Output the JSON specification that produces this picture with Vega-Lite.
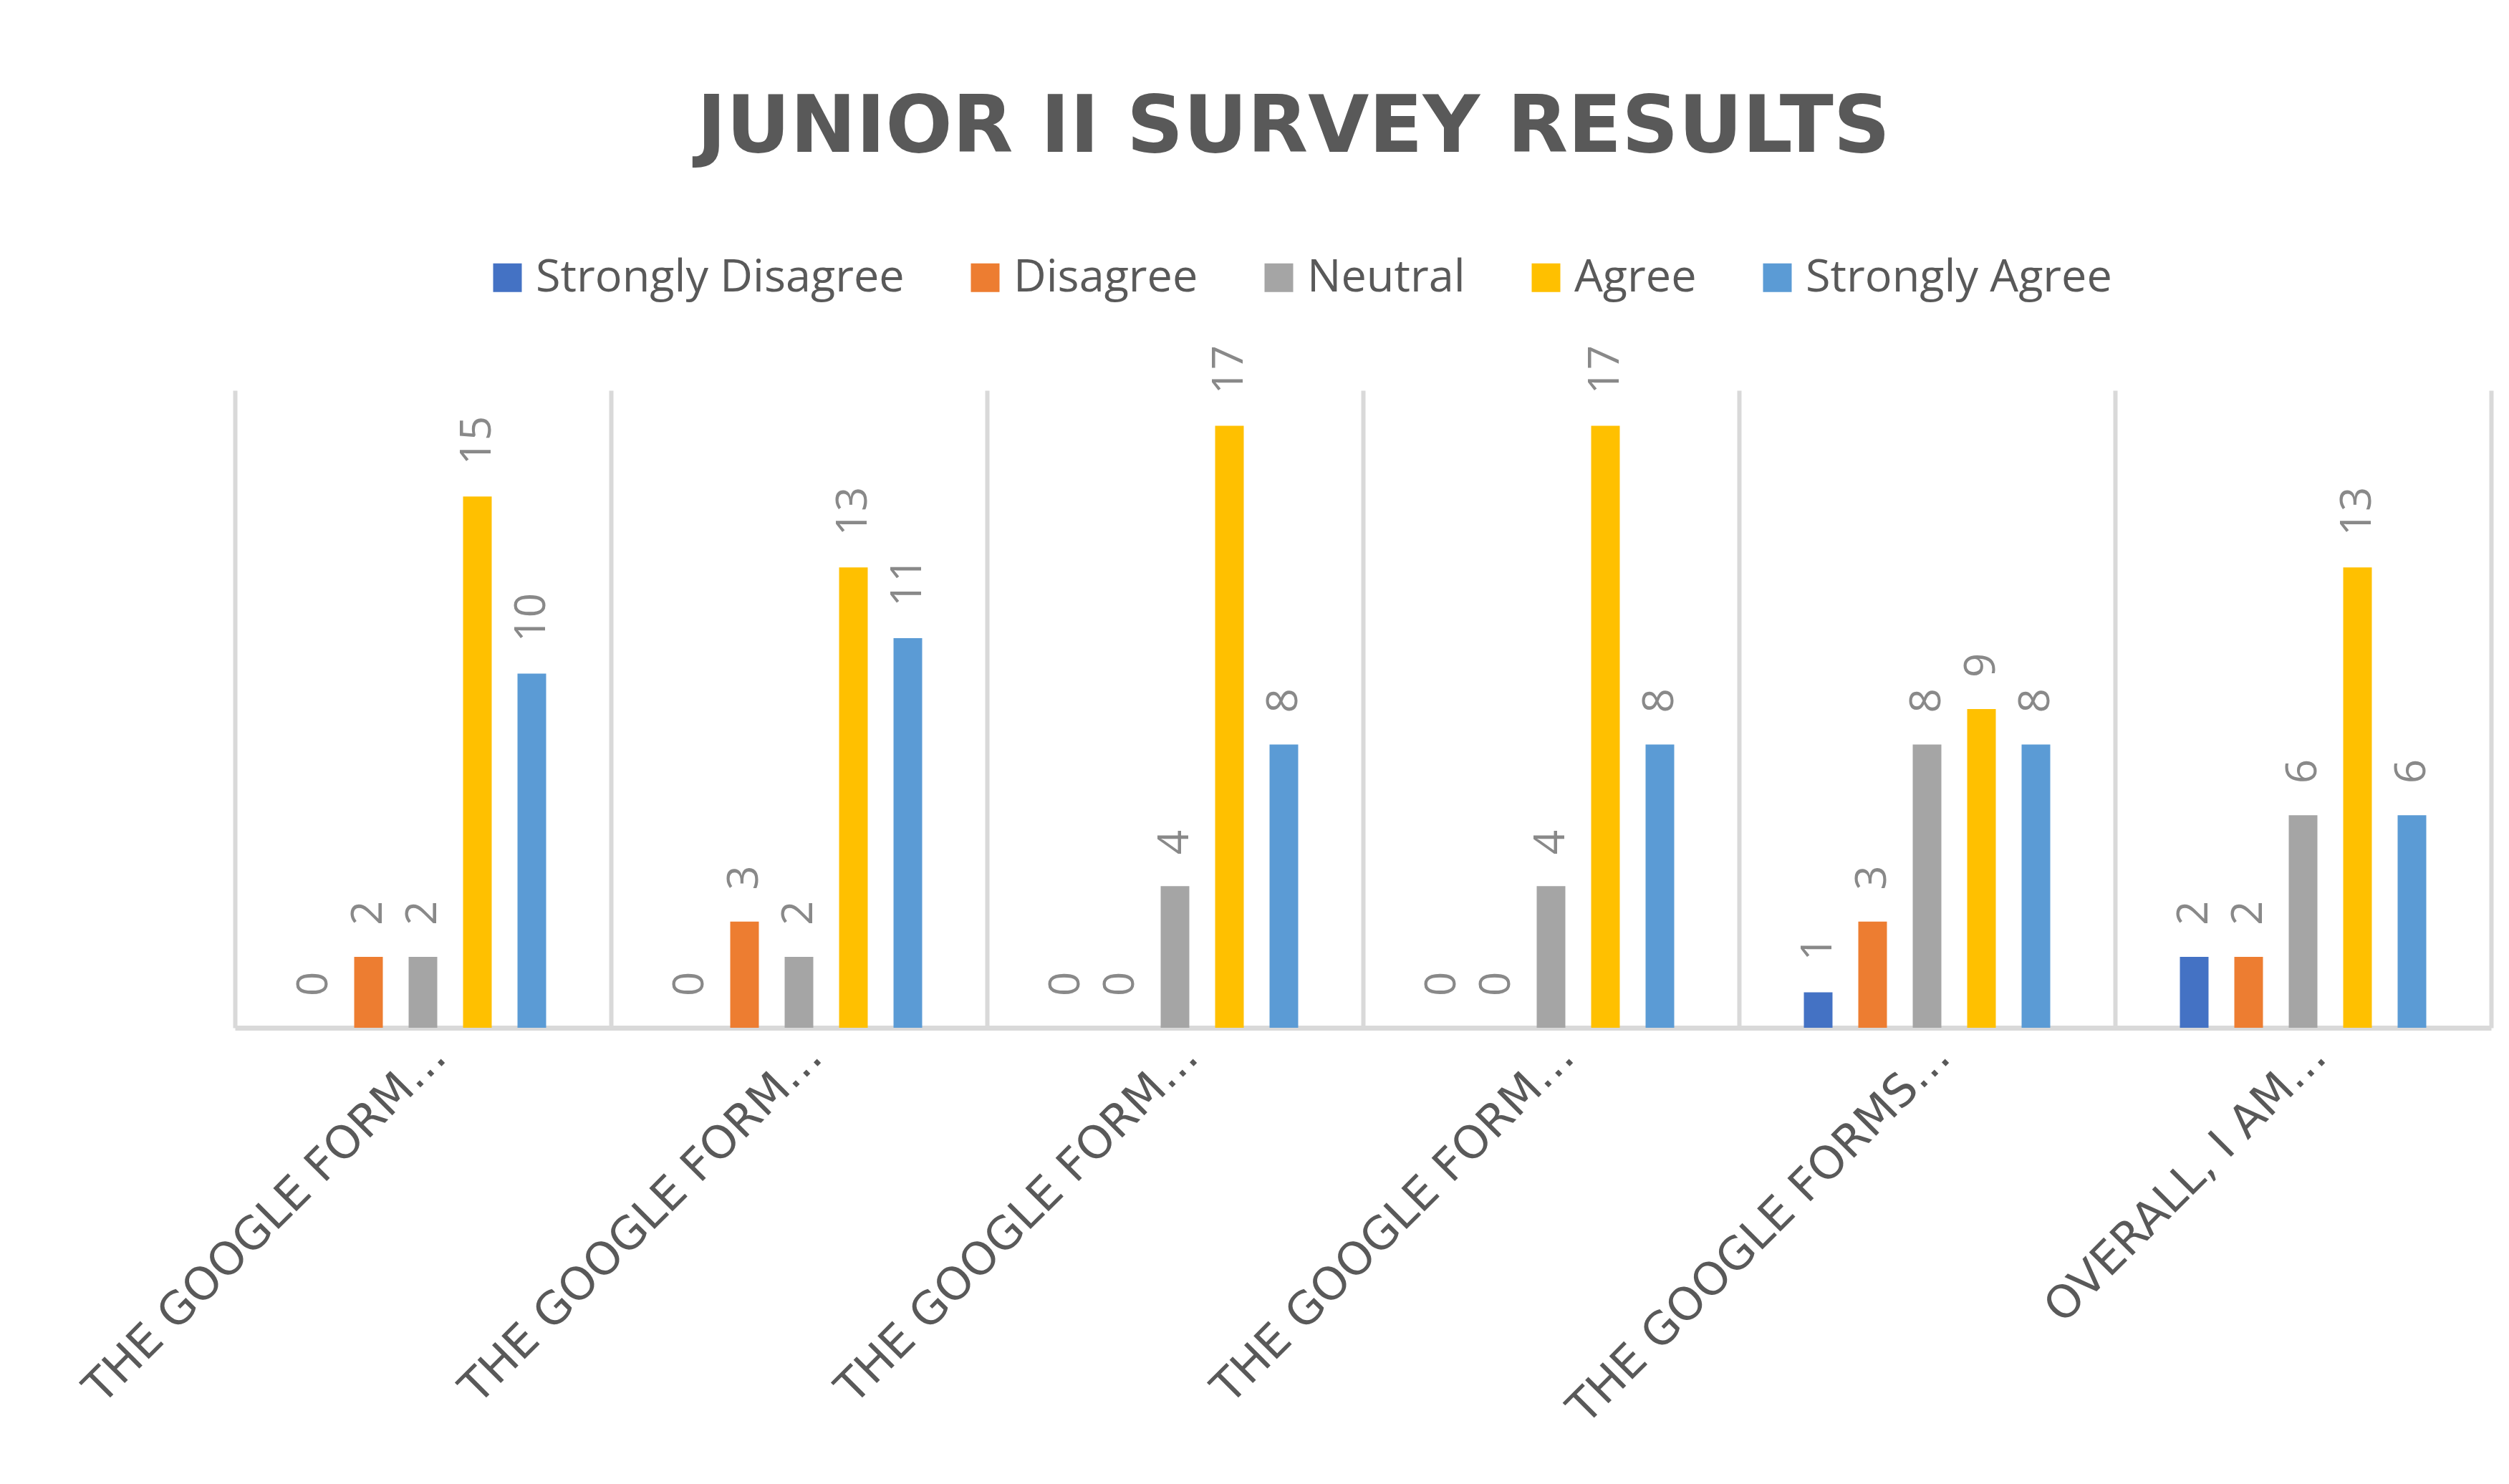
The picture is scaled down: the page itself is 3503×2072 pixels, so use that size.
{
  "$schema": "https://vega.github.io/schema/vega-lite/v6.json",
  "width": 3150,
  "height": 890,
  "autosize": {"type": "none"},
  "padding": {"left": 328, "top": 545, "right": 25, "bottom": 637},
  "background": "white",
  "title": {
    "text": "JUNIOR II SURVEY RESULTS",
    "font": "DejaVu Sans",
    "fontSize": 110,
    "fontWeight": "bold",
    "color": "#595959",
    "anchor": "middle",
    "frame": "group",
    "baseline": "alphabetic",
    "dx": -97,
    "offset": 34
  },
  "data": {
    "values": [
      {"question": "1|THE GOOGLE FORM…", "response": "Strongly Disagree", "count": 0},
      {"question": "1|THE GOOGLE FORM…", "response": "Disagree", "count": 2},
      {"question": "1|THE GOOGLE FORM…", "response": "Neutral", "count": 2},
      {"question": "1|THE GOOGLE FORM…", "response": "Agree", "count": 15},
      {"question": "1|THE GOOGLE FORM…", "response": "Strongly Agree", "count": 10},
      {"question": "2|THE GOOGLE FORM…", "response": "Strongly Disagree", "count": 0},
      {"question": "2|THE GOOGLE FORM…", "response": "Disagree", "count": 3},
      {"question": "2|THE GOOGLE FORM…", "response": "Neutral", "count": 2},
      {"question": "2|THE GOOGLE FORM…", "response": "Agree", "count": 13},
      {"question": "2|THE GOOGLE FORM…", "response": "Strongly Agree", "count": 11},
      {"question": "3|THE GOOGLE FORM…", "response": "Strongly Disagree", "count": 0},
      {"question": "3|THE GOOGLE FORM…", "response": "Disagree", "count": 0},
      {"question": "3|THE GOOGLE FORM…", "response": "Neutral", "count": 4},
      {"question": "3|THE GOOGLE FORM…", "response": "Agree", "count": 17},
      {"question": "3|THE GOOGLE FORM…", "response": "Strongly Agree", "count": 8},
      {"question": "4|THE GOOGLE FORM…", "response": "Strongly Disagree", "count": 0},
      {"question": "4|THE GOOGLE FORM…", "response": "Disagree", "count": 0},
      {"question": "4|THE GOOGLE FORM…", "response": "Neutral", "count": 4},
      {"question": "4|THE GOOGLE FORM…", "response": "Agree", "count": 17},
      {"question": "4|THE GOOGLE FORM…", "response": "Strongly Agree", "count": 8},
      {"question": "5|THE GOOGLE FORMS…", "response": "Strongly Disagree", "count": 1},
      {"question": "5|THE GOOGLE FORMS…", "response": "Disagree", "count": 3},
      {"question": "5|THE GOOGLE FORMS…", "response": "Neutral", "count": 8},
      {"question": "5|THE GOOGLE FORMS…", "response": "Agree", "count": 9},
      {"question": "5|THE GOOGLE FORMS…", "response": "Strongly Agree", "count": 8},
      {"question": "6|OVERALL, I AM…", "response": "Strongly Disagree", "count": 2},
      {"question": "6|OVERALL, I AM…", "response": "Disagree", "count": 2},
      {"question": "6|OVERALL, I AM…", "response": "Neutral", "count": 6},
      {"question": "6|OVERALL, I AM…", "response": "Agree", "count": 13},
      {"question": "6|OVERALL, I AM…", "response": "Strongly Agree", "count": 6}
    ]
  },
  "encoding": {
    "x": {
      "field": "question",
      "type": "nominal",
      "sort": null,
      "scale": {"paddingInner": 0, "paddingOuter": 0},
      "axis": {
        "title": null,
        "labelExpr": "split(datum.value, '|')[1]",
        "labelAngle": -45,
        "labelFont": "DejaVu Sans",
        "labelFontSize": 63,
        "labelColor": "#595959",
        "labelPadding": 8,
        "labelLimit": 0,
        "labelOverlap": false,
        "ticks": false,
        "grid": true,
        "gridColor": "#D9D9D9",
        "gridWidth": 6,
        "tickBand": "extent",
        "domainColor": "#D9D9D9",
        "domainWidth": 7
      }
    },
    "xOffset": {
      "field": "response",
      "type": "nominal",
      "sort": ["Strongly Disagree", "Disagree", "Neutral", "Agree", "Strongly Agree"],
      "scale": {"range": [72.5, 452.5], "paddingInner": 0.474, "paddingOuter": 0.237}
    },
    "y": {
      "field": "count",
      "type": "quantitative",
      "scale": {"domain": [0, 18], "nice": false, "zero": true},
      "axis": null
    }
  },
  "layer": [
    {
      "mark": {"type": "bar"},
      "encoding": {
        "color": {
          "field": "response",
          "type": "nominal",
          "sort": ["Strongly Disagree", "Disagree", "Neutral", "Agree", "Strongly Agree"],
          "scale": {
            "domain": ["Strongly Disagree", "Disagree", "Neutral", "Agree", "Strongly Agree"],
            "range": ["#4472C4", "#ED7D31", "#A5A5A5", "#FFC000", "#5B9BD5"]
          },
          "legend": {
            "title": null,
            "orient": "none",
            "legendX": 349,
            "legendY": -189,
            "direction": "horizontal",
            "symbolType": "square",
            "symbolSize": 1600,
            "symbolStrokeWidth": 0,
            "labelFont": "Open Sans",
            "labelFontSize": 63,
            "labelColor": "#595959",
            "labelOffset": 8,
            "labelLimit": 0,
            "columnPadding": 81,
            "padding": 0
          }
        }
      }
    },
    {
      "mark": {
        "type": "text",
        "angle": 270,
        "align": "left",
        "baseline": "middle",
        "dx": 44,
        "font": "Open Sans",
        "fontSize": 60,
        "color": "#898989"
      },
      "encoding": {
        "text": {"field": "count", "type": "quantitative"}
      }
    }
  ],
  "config": {"view": {"stroke": null}}
}
